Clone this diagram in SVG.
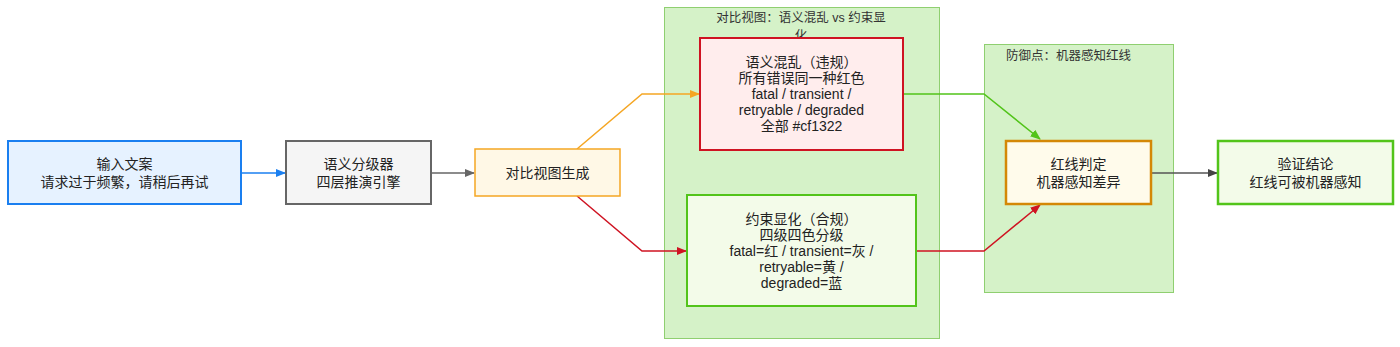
<svg xmlns="http://www.w3.org/2000/svg" width="1400" height="347" viewBox="0 0 1400 347">
<defs>
<style>
text{font-family:"Liberation Sans","Noto Sans CJK SC",sans-serif;font-size:14px;fill:#222;text-anchor:middle;dominant-baseline:central}
.t{font-size:12.5px;fill:#333}
.c{fill:#d5f2c8;stroke:#8fcf70;stroke-width:1}
.e{fill:none;stroke-width:1.5}
</style>
<marker id="ab" viewBox="0 0 10 10" refX="9" refY="5" markerWidth="7" markerHeight="7" orient="auto"><path d="M0,1 L10,5 L0,9 z" fill="#1a7ff0"/></marker>
<marker id="ag" viewBox="0 0 10 10" refX="9" refY="5" markerWidth="7" markerHeight="7" orient="auto"><path d="M0,1 L10,5 L0,9 z" fill="#666"/></marker>
<marker id="ao" viewBox="0 0 10 10" refX="9" refY="5" markerWidth="7" markerHeight="7" orient="auto"><path d="M0,1 L10,5 L0,9 z" fill="#f5a623"/></marker>
<marker id="ar" viewBox="0 0 10 10" refX="9" refY="5" markerWidth="7" markerHeight="7" orient="auto"><path d="M0,1 L10,5 L0,9 z" fill="#cf1322"/></marker>
<marker id="agr" viewBox="0 0 10 10" refX="9" refY="5" markerWidth="7" markerHeight="7" orient="auto"><path d="M0,1 L10,5 L0,9 z" fill="#52c41a"/></marker>
<marker id="ad" viewBox="0 0 10 10" refX="9" refY="5" markerWidth="7" markerHeight="7" orient="auto"><path d="M0,1 L10,5 L0,9 z" fill="#444"/></marker>
</defs>
<rect width="1400" height="347" fill="#fff"/>
<g id="container-compare">
<rect class="c" x="664.5" y="7.5" width="275" height="331"/>
<text class="t" x="801" y="18">对比视图：语义混乱 vs 约束显</text>
<text class="t" x="801" y="36">化</text>
</g>
<g id="container-defense">
<rect class="c" x="984.5" y="44.5" width="189" height="248"/>
<text class="t" x="1006" y="56" style="text-anchor:start">防御点：机器感知红线</text>
</g>
<g id="connectors">
<path class="e" d="M241,173 L285,173" stroke="#1a7ff0" marker-end="url(#ab)"/>
<path class="e" d="M431,173 L474,173" stroke="#666" marker-end="url(#ag)"/>
<path class="e" d="M577,149 L642,94 L699,94" stroke="#f5a623" marker-end="url(#ao)"/>
<path class="e" d="M577,196 L642,251 L686,251" stroke="#cf1322" marker-end="url(#ar)"/>
<path class="e" d="M903,94 L984,94 L1040,139" stroke="#52c41a" marker-end="url(#agr)"/>
<path class="e" d="M916,251 L984,251 L1040,205" stroke="#cf1322" marker-end="url(#ar)"/>
<path class="e" d="M1151,173 L1217,173" stroke="#555" stroke-width="1.2" marker-end="url(#ad)"/>
</g>
<g id="input">
<rect x="8" y="141" width="233" height="63" fill="#e6f2ff" stroke="#1a7ff0" stroke-width="2"/>
<text x="124.5" y="164">输入文案</text>
<text x="124.5" y="182">请求过于频繁，请稍后再试</text>
</g>
<g id="classifier">
<rect x="286" y="141" width="145" height="63" fill="#f5f5f5" stroke="#666" stroke-width="2"/>
<text x="358.5" y="164">语义分级器</text>
<text x="358.5" y="182">四层推演引擎</text>
</g>
<g id="compare-gen">
<rect x="475" y="149" width="145" height="47" fill="#fff8e6" stroke="#f5a623" stroke-width="1.5"/>
<text x="547.5" y="172.5">对比视图生成</text>
</g>
<g id="chaos">
<rect x="700" y="38" width="203" height="112" fill="#ffeded" stroke="#cf1322" stroke-width="2"/>
<text x="801.5" y="62">语义混乱（违规）</text>
<text x="801.5" y="78">所有错误同一种红色</text>
<text x="801.5" y="94">fatal / transient /</text>
<text x="801.5" y="110">retryable / degraded</text>
<text x="801.5" y="126">全部 #cf1322</text>
</g>
<g id="explicit">
<rect x="687" y="195" width="229" height="111" fill="#f3fbe9" stroke="#52c41a" stroke-width="2"/>
<text x="801.5" y="219">约束显化（合规）</text>
<text x="801.5" y="235">四级四色分级</text>
<text x="801.5" y="251">fatal=红 / transient=灰 /</text>
<text x="801.5" y="267">retryable=黄 /</text>
<text x="801.5" y="283">degraded=蓝</text>
</g>
<g id="judge">
<rect x="1006" y="141" width="145" height="63" fill="#fffbeb" stroke="#d48806" stroke-width="2.5"/>
<text x="1078.5" y="164">红线判定</text>
<text x="1078.5" y="182">机器感知差异</text>
</g>
<g id="verify">
<rect x="1218" y="141" width="175" height="63" fill="#f3fbe9" stroke="#52c41a" stroke-width="2.5"/>
<text x="1305.5" y="164">验证结论</text>
<text x="1305.5" y="182">红线可被机器感知</text>
</g>
</svg>
